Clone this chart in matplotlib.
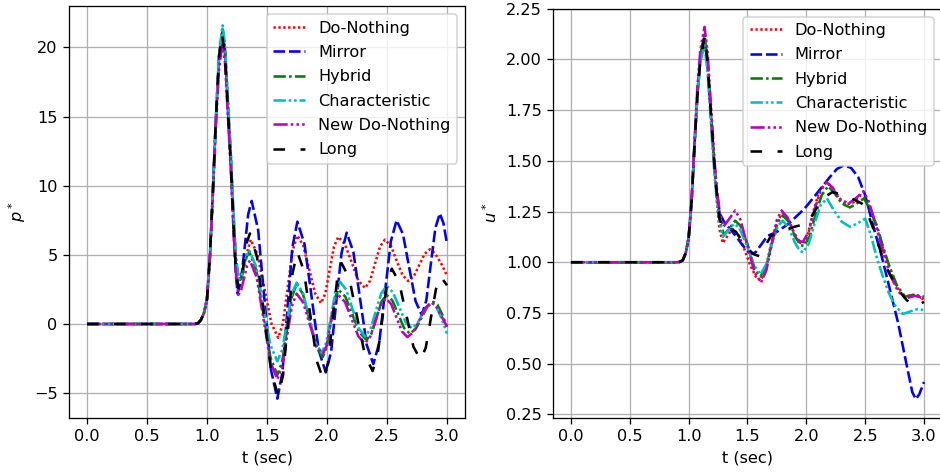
#!/usr/bin/env python

import matplotlib
matplotlib.use("Agg")
import matplotlib.pyplot as plt

labels = ["Do-Nothing", "Mirror", "Hybrid", "Characteristic", "New Do-Nothing", "Long"]

# ---- pressure p* (left panel) ----
p_donothing_t = [0.0, 0.9, 0.925, 0.95, 0.975, 1.0, 1.025, 1.05, 1.075, 1.1, 1.128, 1.15, 1.175, 1.2, 1.22, 1.24,
                 1.27, 1.317, 1.364, 1.42, 1.479, 1.537, 1.594, 1.634, 1.674, 1.713, 1.753, 1.802,
                 1.852, 1.901, 1.95, 1.986, 2.022, 2.058, 2.094, 2.15, 2.206, 2.261, 2.317, 2.358,
                 2.4, 2.441, 2.483, 2.532, 2.58, 2.629, 2.678, 2.723, 2.768, 2.813, 2.858, 2.9, 2.95, 3.0]
p_donothing = [0, 0, 0.05, 0.3, 0.8, 1.8, 5.0, 9.8, 15.0, 19.3, 21.3, 19.8, 15.8, 11.8, 7.8, 4.6,
               3.1, 4.6, 6.1, 5.06, 2.55, 0.04, -1.0, 0.08, 2.7, 5.3, 6.4, 5.68,
               3.95, 2.22, 1.5, 2.2, 3.9, 5.6, 6.3, 5.76, 4.45, 3.14, 2.6, 3.11,
               4.35, 5.59, 6.1, 5.66, 4.6, 3.54, 3.1, 3.44, 4.25, 5.06, 5.4, 5.1, 4.4, 3.5]

p_mirror_t = [0.0, 0.9, 0.925, 0.95, 0.975, 1.0, 1.025, 1.05, 1.075, 1.1, 1.128, 1.15, 1.175, 1.2, 1.22, 1.24,
              1.255, 1.284, 1.314, 1.343, 1.372, 1.426, 1.479, 1.533, 1.586, 1.628, 1.67, 1.711,
              1.753, 1.812, 1.872, 1.931, 1.99, 2.034, 2.077, 2.121, 2.164, 2.22, 2.275, 2.331,
              2.386, 2.435, 2.483, 2.532, 2.58, 2.633, 2.685, 2.738, 2.79, 2.828, 2.865, 2.903,
              2.94, 2.97, 3.0]
p_mirror = [0, 0, 0.05, 0.3, 0.8, 1.8, 5.0, 9.8, 15.0, 19.2, 21.1, 19.6, 15.4, 11.2, 7.0, 3.6,
            2.2, 3.18, 5.55, 7.92, 8.9, 6.81, 1.75, -3.31, -5.4, -3.53, 1.0, 5.53,
            7.4, 5.81, 1.95, -1.91, -3.5, -2.03, 1.55, 5.13, 6.6, 5.21, 1.85, -1.51,
            -2.9, -1.38, 2.3, 5.98, 7.5, 6.5, 4.08, 1.65, 0.65, 1.72, 4.33, 6.93,
            8.0, 7.3, 5.8]

p_hybrid_t = [0.0, 0.9, 0.925, 0.95, 0.975, 1.0, 1.025, 1.05, 1.075, 1.1, 1.13, 1.15, 1.175, 1.2, 1.22, 1.24,
              1.265, 1.287, 1.309, 1.331, 1.353, 1.411, 1.47, 1.528, 1.586, 1.626, 1.667, 1.707,
              1.747, 1.801, 1.856, 1.91, 1.964, 1.997, 2.029, 2.062, 2.094, 2.153, 2.212, 2.271,
              2.33, 2.372, 2.414, 2.455, 2.497, 2.545, 2.594, 2.642, 2.69, 2.739, 2.788, 2.837,
              2.886, 2.92, 2.96, 3.0]
p_hybrid = [0, 0, 0.05, 0.3, 0.8, 1.8, 5.0, 9.8, 15.0, 19.3, 21.3, 19.9, 15.9, 11.9, 8.0, 4.7,
            3.0, 3.32, 4.1, 4.88, 5.2, 3.9, 0.75, -2.4, -3.7, -2.74, -0.4, 1.94,
            2.9, 2.13, 0.25, -1.63, -2.4, -1.68, 0.05, 1.78, 2.5, 1.97, 0.68, -0.62,
            -1.15, -0.68, 0.48, 1.63, 2.1, 1.69, 0.7, -0.29, -0.7, -0.36, 0.45, 1.26,
            1.6, 1.4, 0.7, -0.2]

p_char_t = [0.0, 0.9, 0.925, 0.95, 0.975, 1.0, 1.025, 1.05, 1.075, 1.1, 1.13, 1.15, 1.175, 1.2, 1.22, 1.24,
            1.265, 1.287, 1.309, 1.331, 1.353, 1.411, 1.47, 1.528, 1.586, 1.626, 1.667, 1.707,
            1.747, 1.799, 1.852, 1.904, 1.956, 1.994, 2.032, 2.07, 2.108, 2.16, 2.213, 2.265,
            2.317, 2.362, 2.407, 2.452, 2.497, 2.549, 2.602, 2.654, 2.706, 2.748, 2.789, 2.831,
            2.872, 2.91, 2.955, 3.0]
p_char = [0, 0, 0.05, 0.3, 0.8, 1.8, 5.0, 9.8, 15.1, 19.5, 21.6, 20.2, 16.2, 12.2, 8.3, 5.0,
          3.2, 3.5, 4.25, 5.0, 5.3, 4.13, 1.3, -1.53, -2.7, -1.87, 0.15, 2.17,
          3.0, 2.26, 0.45, -1.36, -2.1, -1.35, 0.48, 2.31, 3.06, 2.48, 1.08, -0.32,
          -0.9, -0.37, 0.93, 2.22, 2.75, 2.3, 1.23, 0.15, -0.3, -0.03, 0.63, 1.28,
          1.55, 1.25, 0.4, -0.7]

p_newdn_t = [0.0, 0.9, 0.925, 0.95, 0.975, 1.0, 1.025, 1.05, 1.075, 1.1, 1.128, 1.15, 1.175, 1.2, 1.22, 1.24,
             1.261, 1.285, 1.31, 1.334, 1.358, 1.415, 1.472, 1.529, 1.586, 1.626, 1.667, 1.707,
             1.747, 1.801, 1.856, 1.91, 1.964, 1.997, 2.029, 2.062, 2.094, 2.15, 2.206, 2.261,
             2.317, 2.36, 2.404, 2.447, 2.49, 2.535, 2.58, 2.625, 2.67, 2.72, 2.771, 2.821,
             2.872, 2.91, 2.955, 3.0]
p_newdn = [0, 0, 0.05, 0.3, 0.8, 1.8, 4.9, 9.5, 14.4, 18.4, 20.3, 18.9, 14.9, 10.9, 7.0, 3.8,
           2.1, 2.47, 3.35, 4.23, 4.6, 3.34, 0.3, -2.74, -4.0, -3.09, -0.9, 1.29,
           2.2, 1.56, 0.0, -1.56, -2.2, -1.57, -0.05, 1.47, 2.1, 1.59, 0.35, -0.89,
           -1.4, -0.93, 0.23, 1.38, 1.85, 1.44, 0.45, -0.54, -0.95, -0.58, 0.3, 1.18,
           1.55, 1.3, 0.55, -0.2]

p_long_t = [0.0, 0.9, 0.925, 0.95, 0.975, 1.0, 1.025, 1.05, 1.075, 1.1, 1.125, 1.15, 1.175, 1.2, 1.22, 1.24,
            1.261, 1.285, 1.31, 1.334, 1.358, 1.417, 1.476, 1.535, 1.594, 1.634, 1.674, 1.713,
            1.753, 1.807, 1.862, 1.916, 1.97, 2.008, 2.046, 2.084, 2.122, 2.187, 2.251, 2.316,
            2.38, 2.42, 2.46, 2.5, 2.54, 2.6, 2.66, 2.72, 2.78, 2.823, 2.865, 2.908, 2.95, 3.0]
p_long = [0, 0, 0.05, 0.3, 0.8, 1.8, 5.0, 9.8, 15.0, 19.3, 21.0, 19.4, 15.3, 11.3, 7.3, 4.0,
          2.6, 3.18, 4.58, 5.97, 6.55, 4.83, 0.68, -3.48, -5.2, -3.68, 0.0, 3.68,
          5.2, 3.85, 0.58, -2.7, -4.05, -2.82, 0.18, 3.17, 4.4, 3.26, 0.5, -2.26,
          -3.4, -2.32, 0.3, 2.92, 4.0, 3.04, 0.7, -1.64, -2.6, -1.72, 0.4, 2.52, 3.4, 2.8]

# ---- velocity u* (right panel) ----
u_donothing_t = [0.0, 0.9, 0.925, 0.95, 0.975, 1.0, 1.025, 1.05, 1.075, 1.1, 1.135, 1.16, 1.18, 1.2, 1.22, 1.24,
                 1.26, 1.29, 1.33, 1.37, 1.42, 1.47, 1.52, 1.57, 1.61, 1.65, 1.7, 1.75, 1.795,
                 1.84, 1.89, 1.935, 1.97, 2.01, 2.06, 2.11, 2.17, 2.22, 2.28, 2.34, 2.4, 2.46,
                 2.5, 2.55, 2.6, 2.65, 2.7, 2.75, 2.8, 2.84, 2.9, 2.95, 3.0]
u_donothing = [1.0, 1.0, 1.002, 1.01, 1.045, 1.12, 1.3, 1.58, 1.84, 2.02, 2.13, 2.0, 1.82, 1.64, 1.46, 1.3,
               1.17, 1.095, 1.13, 1.165, 1.14, 1.07, 0.99, 0.93, 0.91, 0.95, 1.09, 1.2, 1.24,
               1.22, 1.15, 1.1, 1.09, 1.13, 1.25, 1.35, 1.395, 1.37, 1.31, 1.285, 1.295, 1.33,
               1.32, 1.25, 1.165, 1.07, 0.98, 0.9, 0.85, 0.83, 0.84, 0.835, 0.815]

u_mirror_t = [0.0, 0.9, 0.925, 0.95, 0.975, 1.0, 1.025, 1.05, 1.075, 1.1, 1.135, 1.16, 1.18, 1.2, 1.22, 1.24,
              1.265, 1.3, 1.35, 1.4, 1.45, 1.5, 1.53, 1.57, 1.62, 1.67, 1.75, 1.85, 1.95, 2.0,
              2.09, 2.2, 2.26, 2.32, 2.38, 2.44, 2.5, 2.57, 2.64, 2.71, 2.78, 2.85, 2.9, 2.93,
              2.96, 3.0]
u_mirror = [1.0, 1.0, 1.002, 1.01, 1.045, 1.12, 1.3, 1.58, 1.83, 2.0, 2.1, 1.98, 1.8, 1.63, 1.47, 1.34,
            1.24, 1.2, 1.165, 1.13, 1.09, 1.055, 1.04, 1.05, 1.09, 1.13, 1.15, 1.19, 1.245, 1.275,
            1.34, 1.42, 1.46, 1.478, 1.465, 1.42, 1.33, 1.175, 1.03, 0.865, 0.7, 0.5, 0.36, 0.325,
            0.35, 0.41]

u_hybrid_t = [0.0, 0.9, 0.925, 0.95, 0.975, 1.0, 1.025, 1.05, 1.075, 1.1, 1.135, 1.16, 1.18, 1.2, 1.22, 1.24,
              1.265, 1.3, 1.35, 1.395, 1.44, 1.5, 1.56, 1.61, 1.66, 1.71, 1.76, 1.8, 1.85, 1.9,
              1.95, 1.98, 2.03, 2.08, 2.13, 2.185, 2.24, 2.3, 2.37, 2.43, 2.49, 2.54, 2.6, 2.65,
              2.7, 2.77, 2.84, 2.91, 2.96, 3.0]
u_hybrid = [1.0, 1.0, 1.002, 1.01, 1.045, 1.12, 1.3, 1.58, 1.84, 2.02, 2.12, 1.99, 1.81, 1.63, 1.47, 1.33,
            1.2, 1.135, 1.17, 1.205, 1.18, 1.09, 0.97, 0.93, 0.98, 1.1, 1.2, 1.23, 1.2, 1.13,
            1.085, 1.08, 1.13, 1.24, 1.33, 1.375, 1.34, 1.29, 1.27, 1.29, 1.315, 1.26, 1.18, 1.08,
            0.99, 0.885, 0.83, 0.84, 0.835, 0.83]

u_char_t = [0.0, 0.9, 0.925, 0.95, 0.975, 1.0, 1.025, 1.05, 1.075, 1.1, 1.135, 1.16, 1.18, 1.2, 1.22, 1.24,
            1.265, 1.29, 1.34, 1.385, 1.43, 1.49, 1.55, 1.61, 1.66, 1.71, 1.76, 1.8, 1.85, 1.9,
            1.94, 1.97, 2.02, 2.07, 2.12, 2.175, 2.23, 2.3, 2.37, 2.43, 2.5, 2.55, 2.6, 2.65,
            2.7, 2.75, 2.82, 2.88, 2.94, 3.0]
u_char = [1.0, 1.0, 1.002, 1.01, 1.045, 1.12, 1.3, 1.58, 1.83, 1.99, 2.07, 1.94, 1.77, 1.59, 1.43, 1.3,
          1.19, 1.125, 1.16, 1.19, 1.17, 1.09, 0.99, 0.94, 0.99, 1.1, 1.18, 1.205, 1.17, 1.1,
          1.06, 1.048, 1.09, 1.19, 1.28, 1.315, 1.26, 1.2, 1.175, 1.19, 1.215, 1.13, 1.02, 0.93,
          0.85, 0.79, 0.745, 0.757, 0.768, 0.765]

u_newdn_t = [0.0, 0.9, 0.925, 0.95, 0.975, 1.0, 1.025, 1.05, 1.075, 1.1, 1.135, 1.16, 1.18, 1.2, 1.22, 1.24,
             1.265, 1.295, 1.34, 1.395, 1.44, 1.5, 1.56, 1.615, 1.66, 1.71, 1.75, 1.79, 1.84, 1.9,
             1.94, 1.97, 2.02, 2.07, 2.12, 2.17, 2.22, 2.29, 2.36, 2.42, 2.485, 2.53, 2.57, 2.64,
             2.71, 2.78, 2.85, 2.92, 2.96, 3.0]
u_newdn = [1.0, 1.0, 1.002, 1.01, 1.045, 1.12, 1.31, 1.6, 1.87, 2.05, 2.16, 2.04, 1.86, 1.68, 1.5, 1.36,
           1.24, 1.175, 1.21, 1.255, 1.21, 1.08, 0.95, 0.9, 0.96, 1.1, 1.21, 1.255, 1.22, 1.14,
           1.105, 1.1, 1.15, 1.26, 1.35, 1.395, 1.37, 1.31, 1.29, 1.315, 1.35, 1.3, 1.225, 1.075,
           0.94, 0.855, 0.823, 0.834, 0.83, 0.818]

u_long_t = [0.0, 0.9, 0.925, 0.95, 0.975, 1.0, 1.025, 1.05, 1.075, 1.1, 1.135, 1.16, 1.18, 1.2, 1.22, 1.24,
            1.26, 1.29, 1.35, 1.4, 1.45, 1.5, 1.55, 1.6, 1.65, 1.7, 1.8, 1.9, 2.0, 2.05,
            2.1, 2.15, 2.22, 2.3, 2.4, 2.47, 2.52, 2.56, 2.6, 2.65, 2.7, 2.75, 2.8, 2.85,
            2.9, 2.93, 2.97, 3.0]
u_long = [1.0, 1.0, 1.002, 1.01, 1.045, 1.12, 1.3, 1.58, 1.83, 2.0, 2.115, 1.99, 1.81, 1.64, 1.47, 1.33,
          1.22, 1.17, 1.17, 1.15, 1.11, 1.07, 1.04, 1.03, 1.08, 1.13, 1.155, 1.175, 1.19, 1.23,
          1.28, 1.32, 1.345, 1.335, 1.31, 1.29, 1.24, 1.18, 1.11, 1.02, 0.95, 0.9, 0.85, 0.815,
          0.79, 0.785, 0.795, 0.805]

p_series = [(p_donothing_t, p_donothing), (p_mirror_t, p_mirror), (p_hybrid_t, p_hybrid),
            (p_char_t, p_char), (p_newdn_t, p_newdn), (p_long_t, p_long)]
u_series = [(u_donothing_t, u_donothing), (u_mirror_t, u_mirror), (u_hybrid_t, u_hybrid),
            (u_char_t, u_char), (u_newdn_t, u_newdn), (u_long_t, u_long)]

colors = ['r', 'b', 'g', 'c', 'm', 'k']
styles = [(0, (0.9, 1.0)),
          (0, (4.5, 1.5)),
          (0, (4.8, 1.25, 1.0, 1.25)),
          (0, (4.8, 1.1, 1.0, 1.1, 1.0, 1.1)),
          (0, (5.5, 1.2, 1.0, 1.2, 1.0, 1.2, 1.0, 1.2)),
          (0, (4.5, 6.0))]

dpi = 116
fig = plt.figure(figsize=(940 / dpi, 474 / dpi), dpi=dpi)
ax0 = fig.add_axes([69 / 940, 1 - 418 / 474, 396 / 940, 412 / 474])
ax1 = fig.add_axes([553.3 / 940, 1 - 417.7 / 474, 388.4 / 940, 409.1 / 474])

for (t, v), c, ls, lab in zip(p_series, colors, styles, labels):
    ax0.plot(t, v, color=c, linestyle=ls, linewidth=1.6, label=lab)
for (t, v), c, ls, lab in zip(u_series, colors, styles, labels):
    ax1.plot(t, v, color=c, linestyle=ls, linewidth=1.6, label=lab)

ax0.set_xlim(-0.15, 3.15)
ax0.set_ylim(-6.8, 23.0)
ax0.set_ylabel("$p^*$")
ax0.set_xlabel("t (sec)")
ax0.grid(True)
ax0.legend(loc="upper right", labelspacing=0.58)

ax1.set_xlim(-0.15, 3.15)
ax1.set_ylim(0.234, 2.25)
ax1.set_yticks([0.25, 0.5, 0.75, 1.0, 1.25, 1.5, 1.75, 2.0, 2.25])
ax1.set_ylabel("$u^*$")
ax1.set_xlabel("t (sec)")
ax1.grid(True)
ax1.legend(loc="upper right", labelspacing=0.58)

fig.savefig("out.png", dpi=dpi)
